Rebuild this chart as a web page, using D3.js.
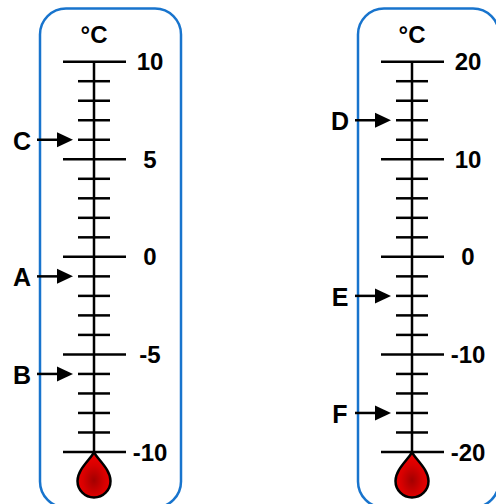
<!DOCTYPE html>
<html>
<head>
<meta charset="utf-8">
<script src="https://cdn.jsdelivr.net/npm/d3@7"></script>
<style>
  html, body { margin: 0; padding: 0; background: #fff; }
  svg { display: block; }
  text { font-family: "Liberation Sans", Arial, sans-serif; font-weight: bold; fill: #000; }
</style>
</head>
<body>
<svg id="chart" width="496" height="504"></svg>
<script>
// ---- data ----
const leftDomain = [-10, 10];
const leftMinorStep = 1;
const leftMajorTicks = [10, 5, 0, -5, -10];
const leftTickLabels = ["10", "5", "0", "-5", "-10"];
const leftArrowLabels = ["C", "A", "B"];
const leftArrowValues = [6, -1, -6];

const rightDomain = [-20, 20];
const rightMinorStep = 2;
const rightMajorTicks = [20, 10, 0, -10, -20];
const rightTickLabels = ["20", "10", "0", "-10", "-20"];
const rightArrowLabels = ["D", "E", "F"];
const rightArrowValues = [14, -4, -16];

const unitLabel = "°C";

const svg = d3.select("#chart");
const defs = svg.append("defs");
const grad = defs.append("radialGradient").attr("id", "bulbGrad")
  .attr("cx", "50%").attr("cy", "62%").attr("r", "55%");
grad.append("stop").attr("offset", "0%").attr("stop-color", "#a30000");
grad.append("stop").attr("offset", "60%").attr("stop-color", "#d80000");
grad.append("stop").attr("offset", "100%").attr("stop-color", "#ee0000");

function thermometer(cfg) {
  const g = svg.append("g");
  const ax = cfg.axisX;
  const y = d3.scaleLinear().domain(cfg.domain).range([452, 61.7]);

  // case
  g.append("rect")
    .attr("x", ax - 54).attr("y", 8.5)
    .attr("width", 141).attr("height", 499)
    .attr("rx", 26).attr("ry", 26)
    .attr("fill", "none").attr("stroke", "#1874cd").attr("stroke-width", 2.5);

  // unit label
  g.append("text").attr("x", ax).attr("y", 43)
    .attr("text-anchor", "middle").attr("font-size", 24).text(unitLabel);

  // bulb
  const by = y(cfg.domain[0]) + 29;
  g.append("path")
    .attr("transform", `translate(${ax},${by})`)
    .attr("d", "M0,-29 C3,-22 16.5,-12 16.5,0 A16.5,16.5 0 1 1 -16.5,0 C-16.5,-12 -3,-22 0,-29 Z")
    .attr("fill", "url(#bulbGrad)").attr("stroke", "#000").attr("stroke-width", 2.5)
    .attr("stroke-linejoin", "round");

  // stem
  g.append("line")
    .attr("x1", ax).attr("x2", ax)
    .attr("y1", y(cfg.domain[1])).attr("y2", y(cfg.domain[0]))
    .attr("stroke", "#000").attr("stroke-width", 2.5);

  // ticks
  const minor = d3.range(cfg.domain[0], cfg.domain[1] + 0.001, cfg.minorStep)
    .filter(v => !cfg.majors.includes(v));
  g.selectAll(".minor").data(minor).join("line")
    .attr("x1", ax - 16).attr("x2", ax + 16)
    .attr("y1", d => y(d)).attr("y2", d => y(d))
    .attr("stroke", "#000").attr("stroke-width", 2.5);
  g.selectAll(".major").data(cfg.majors).join("line")
    .attr("x1", ax - 31).attr("x2", ax + 32)
    .attr("y1", d => y(d)).attr("y2", d => y(d))
    .attr("stroke", "#000").attr("stroke-width", 2.5);
  g.selectAll(".tl").data(cfg.majors).join("text")
    .attr("x", ax + 56).attr("y", d => y(d) + 8.5)
    .attr("text-anchor", "middle").attr("font-size", 24)
    .text((d, i) => cfg.tickLabels[i]);

  // arrows
  cfg.arrowValues.forEach((v, i) => {
    const yy = y(v);
    g.append("line")
      .attr("x1", ax - 57).attr("x2", ax - 34)
      .attr("y1", yy).attr("y2", yy)
      .attr("stroke", "#000").attr("stroke-width", 2.5);
    g.append("path")
      .attr("d", `M${ax - 21},${yy} L${ax - 37},${yy - 7.5} L${ax - 37},${yy + 7.5} Z`)
      .attr("fill", "#000");
    g.append("text")
      .attr("x", ax - 72).attr("y", yy + 10)
      .attr("text-anchor", "middle").attr("font-size", 25)
      .text(cfg.arrowLabels[i]);
  });
}

thermometer({ axisX: 94, domain: leftDomain, minorStep: leftMinorStep, majors: leftMajorTicks,
  tickLabels: leftTickLabels, arrowLabels: leftArrowLabels, arrowValues: leftArrowValues });
thermometer({ axisX: 412, domain: rightDomain, minorStep: rightMinorStep, majors: rightMajorTicks,
  tickLabels: rightTickLabels, arrowLabels: rightArrowLabels, arrowValues: rightArrowValues });
</script>
</body>
</html>
